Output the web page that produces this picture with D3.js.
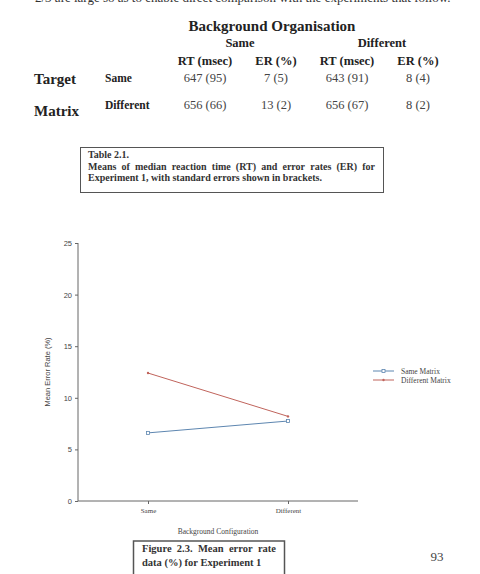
<!DOCTYPE html>
<html>
<head>
<meta charset="utf-8">
<script src="https://cdn.jsdelivr.net/npm/d3@7"></script>
<style>
  body { margin: 0; background: #fff; }
  svg { display: block; }
  .serif { font-family: "Liberation Serif", "Times New Roman", serif; }
  .sans { font-family: "Liberation Sans", Arial, sans-serif; }
</style>
</head>
<body>
<svg id="canvas" width="480" height="574"></svg>
<script>
// Table values
var BG_GROUPS = ['Same', 'Different'];
var MEASURES = ['RT (msec)', 'ER (%)'];
var ROW_LABELS = ['Same', 'Different'];
var TABLE_ROWS = [
  ['647 (95)', '7 (5)', '643 (91)', '8 (4)'],
  ['656 (66)', '13 (2)', '656 (67)', '8 (2)']
];

// Chart values
var CATEGORIES = ['Same', 'Different'];
var SERIES_NAMES = ['Same Matrix', 'Different Matrix'];
var SAME_MATRIX = [6.6, 7.75];
var DIFFERENT_MATRIX = [12.4, 8.2];
var Y_TICKS = [0, 5, 10, 15, 20, 25];

var svg = d3.select('#canvas');

// Partially cut line of body text at the top of the page
svg.append('text')
  .attr('class', 'serif')
  .attr('x', 35).attr('y', 2)
  .attr('font-size', 13).attr('fill', '#333')
  .text('2/3 are large so as to enable direct comparison with the experiments that follow.');

// ---- Table ----
var colX = [205, 276, 347, 418];
var table = svg.append('g').attr('class', 'serif').attr('fill', '#222');

table.append('text')
  .attr('x', 272).attr('y', 31)
  .attr('text-anchor', 'middle')
  .attr('font-size', 15).attr('font-weight', 'bold')
  .text('Background Organisation');

BG_GROUPS.forEach(function (g, i) {
  table.append('text')
    .attr('x', i === 0 ? 240 : 382).attr('y', 47)
    .attr('text-anchor', 'middle')
    .attr('font-size', 12.5).attr('font-weight', 'bold')
    .text(g);
});

colX.forEach(function (x, i) {
  table.append('text')
    .attr('x', x).attr('y', 65)
    .attr('text-anchor', 'middle')
    .attr('font-size', 12.5).attr('font-weight', 'bold')
    .text(MEASURES[i % 2]);
});

table.append('text')
  .attr('x', 34).attr('y', 84)
  .attr('font-size', 15).attr('font-weight', 'bold')
  .text('Target');
table.append('text')
  .attr('x', 34).attr('y', 116)
  .attr('font-size', 15).attr('font-weight', 'bold')
  .text('Matrix');

var rowY = [82, 109];
ROW_LABELS.forEach(function (r, i) {
  table.append('text')
    .attr('x', 105).attr('y', rowY[i])
    .attr('font-size', 11.5).attr('font-weight', 'bold')
    .text(r);
  TABLE_ROWS[i].forEach(function (v, j) {
    table.append('text')
      .attr('x', colX[j]).attr('y', rowY[i])
      .attr('text-anchor', 'middle')
      .attr('font-size', 12.5).attr('fill', '#444')
      .text(v);
  });
});

/**
 * Writes one line of words spread to fill the given width.
 */
function justifiedLine(parent, words, x, y, width, size) {
  var g = parent.append('g');
  var nodes = words.map(function (w) {
    return g.append('text').attr('y', y).attr('font-size', size)
      .attr('font-weight', 'bold').text(w);
  });
  var total = 0;
  nodes.forEach(function (n) { total += n.node().getComputedTextLength(); });
  var gap = (width - total) / (words.length - 1);
  var cx = x;
  nodes.forEach(function (n) {
    n.attr('x', cx);
    cx += n.node().getComputedTextLength() + gap;
  });
}

// Table caption box
var cap1 = svg.append('g').attr('class', 'serif').attr('fill', '#333');
cap1.append('rect')
  .attr('x', 80.5).attr('y', 147.5).attr('width', 303).attr('height', 45)
  .attr('fill', 'none').attr('stroke', '#555').attr('stroke-width', 1);
cap1.append('text').attr('x', 88).attr('y', 157.5)
  .attr('font-size', 10).attr('font-weight', 'bold').text('Table 2.1.');
justifiedLine(cap1, 'Means of median reaction time (RT) and error rates (ER) for'.split(' '), 88, 169.5, 287, 10);
cap1.append('text').attr('x', 88).attr('y', 181)
  .attr('font-size', 10).attr('font-weight', 'bold')
  .text('Experiment 1, with standard errors shown in brackets.');

// ---- Chart ----
var margin = { left: 78, right: 358, top: 243, bottom: 501 };

var x = d3.scalePoint()
  .domain(CATEGORIES)
  .range([margin.left, margin.right])
  .padding(0.5);

var y = d3.scaleLinear()
  .domain([0, 25])
  .range([margin.bottom, margin.top]);

var yAxis = svg.append('g')
  .attr('class', 'sans')
  .attr('transform', 'translate(' + margin.left + ',0)')
  .call(d3.axisLeft(y).tickValues(Y_TICKS).tickSize(3).tickPadding(3));
yAxis.selectAll('text').attr('font-size', 7.5).attr('fill', '#444');
yAxis.select('.domain').attr('stroke', '#666').attr('d', 'M0,' + margin.top + 'V' + margin.bottom);
yAxis.selectAll('line').attr('stroke', '#666');

var xAxis = svg.append('g')
  .attr('class', 'serif')
  .attr('transform', 'translate(0,' + margin.bottom + ')')
  .call(d3.axisBottom(x).tickSize(3).tickPadding(4));
xAxis.selectAll('text').attr('font-size', 7).attr('fill', '#444');
xAxis.select('.domain').attr('stroke', '#666').attr('d', 'M' + margin.left + ',0H' + margin.right);
xAxis.selectAll('line').attr('stroke', '#666');

svg.append('text')
  .attr('class', 'sans')
  .attr('transform', 'translate(50,' + y(12.5) + ') rotate(-90)')
  .attr('text-anchor', 'middle')
  .attr('font-size', 7.5).attr('fill', '#444')
  .text('Mean Error Rate (%)');

svg.append('text')
  .attr('class', 'serif')
  .attr('x', 218).attr('y', 534)
  .attr('text-anchor', 'middle')
  .attr('font-size', 7.5).attr('fill', '#444')
  .text('Background Configuration');

var COLORS = ['#5d86b0', '#c0645c'];
var line = d3.line()
  .x(function (d, i) { return x(CATEGORIES[i]); })
  .y(function (d) { return y(d); });

[SAME_MATRIX, DIFFERENT_MATRIX].forEach(function (vals, s) {
  svg.append('path')
    .attr('d', line(vals))
    .attr('fill', 'none')
    .attr('stroke', COLORS[s])
    .attr('stroke-width', 1);
  vals.forEach(function (v, i) {
    if (s === 0) {
      svg.append('rect')
        .attr('x', x(CATEGORIES[i]) - 1.5).attr('y', y(v) - 1.5)
        .attr('width', 3).attr('height', 3)
        .attr('fill', '#fff').attr('stroke', COLORS[s]).attr('stroke-width', 0.8);
    } else {
      svg.append('circle')
        .attr('cx', x(CATEGORIES[i])).attr('cy', y(v)).attr('r', 1.2)
        .attr('fill', COLORS[s]);
    }
  });
});

// Legend
var legend = svg.append('g').attr('class', 'serif');
SERIES_NAMES.forEach(function (name, s) {
  var ly = 371 + s * 9;
  legend.append('line')
    .attr('x1', 373).attr('x2', 394).attr('y1', ly).attr('y2', ly)
    .attr('stroke', COLORS[s]).attr('stroke-width', 1);
  if (s === 0) {
    legend.append('rect')
      .attr('x', 382).attr('y', ly - 1.5).attr('width', 3).attr('height', 3)
      .attr('fill', '#fff').attr('stroke', COLORS[s]).attr('stroke-width', 0.8);
  } else {
    legend.append('circle').attr('cx', 383.5).attr('cy', ly).attr('r', 1.2).attr('fill', COLORS[s]);
  }
  legend.append('text')
    .attr('x', 401).attr('y', ly + 2.5)
    .attr('font-size', 7.5).attr('fill', '#444')
    .text(name);
});

// Figure caption box
var cap2 = svg.append('g').attr('class', 'serif').attr('fill', '#333');
cap2.append('rect')
  .attr('x', 133.5).attr('y', 541).attr('width', 151).attr('height', 40)
  .attr('fill', 'none').attr('stroke', '#555').attr('stroke-width', 1.5);
justifiedLine(cap2, 'Figure 2.3. Mean error rate'.split(' '), 142, 552, 134, 10.5);
cap2.append('text').attr('x', 142).attr('y', 566)
  .attr('font-size', 10.5).attr('font-weight', 'bold')
  .text('data (%) for Experiment 1');

svg.append('text')
  .attr('class', 'serif')
  .attr('x', 437).attr('y', 561)
  .attr('text-anchor', 'middle')
  .attr('font-size', 13).attr('fill', '#444')
  .text('93');
</script>
</body>
</html>
